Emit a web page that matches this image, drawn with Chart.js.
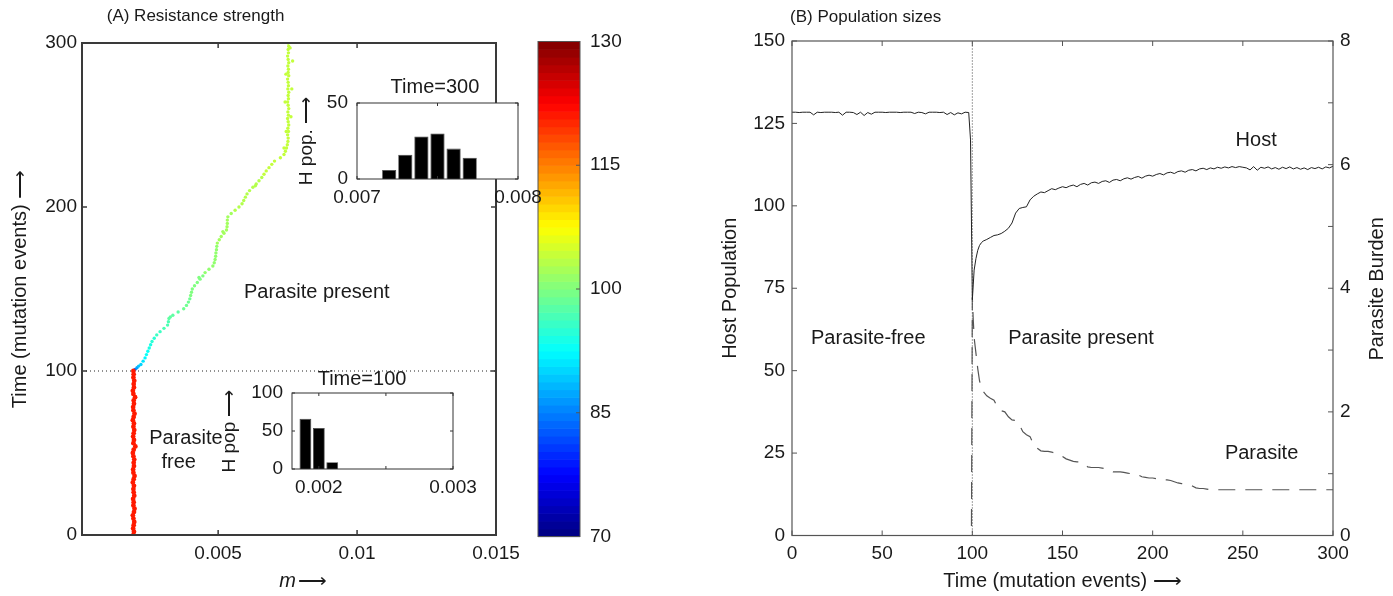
<!DOCTYPE html>
<html>
<head>
<meta charset="utf-8">
<script src="https://cdn.jsdelivr.net/npm/chart.js@4.4.1/dist/chart.umd.min.js"></script>
<style>
  html, body { margin: 0; padding: 0; background: #fff; }
  #page { position: relative; width: 1393px; height: 596px; overflow: hidden; }
  canvas { position: absolute; }
</style>
</head>
<body>
<div id="page">
  <canvas id="chart-a" width="530" height="596" style="left:0;top:0"></canvas>
  <canvas id="chart-cbar" width="110" height="596" style="left:530px;top:0"></canvas>
  <canvas id="chart-b" width="693" height="596" style="left:700px;top:0"></canvas>
  <canvas id="inset-300" width="260" height="150" style="left:290px;top:70px"></canvas>
  <canvas id="inset-100" width="270" height="150" style="left:215px;top:360px"></canvas>
</div>
<script>
// ---------------- data: panel A (resistance strength) ----------------
// parasite-free phase, time 0..100
const freeTime = [0, 2, 4, 6, 8, 10, 12, 14, 16, 18,
  20, 22, 24, 26, 28, 30, 32, 34, 36, 38,
  40, 42, 44, 46, 48, 50, 52, 54, 56, 58,
  60, 62, 64, 66, 68, 70, 72, 74, 76, 78,
  80, 82, 84, 86, 88, 90, 92, 94, 96, 98, 100];
const freeM = [0.00195, 0.00197, 0.00194, 0.00196, 0.00198, 0.00195, 0.00193, 0.00197, 0.00199, 0.00195,
  0.00196, 0.00194, 0.00198, 0.00196, 0.00195, 0.00197, 0.00193, 0.00196, 0.00199, 0.00195,
  0.00194, 0.00197, 0.00196, 0.00198, 0.00195, 0.00193, 0.00196, 0.00202, 0.00195, 0.00197,
  0.00194, 0.00196, 0.00198, 0.00195, 0.00197, 0.00193, 0.00196, 0.00199, 0.00195, 0.00194,
  0.00197, 0.00196, 0.00201, 0.00195, 0.00193, 0.00197, 0.00196, 0.00198, 0.00195, 0.00196, 0.00195];
const freeResistance = 121;

// parasite-present phase, time 100..300
const pathTime = [100, 101, 102, 103, 104, 106, 108, 110, 112, 114,
  116, 118, 120, 122, 124, 126, 128, 130, 132, 134,
  136, 138, 140, 142, 144, 146, 148, 150, 152, 154,
  156, 158, 160, 162, 164, 166, 168, 170, 172, 174,
  176, 178, 180, 182, 184, 186, 188, 190, 192, 194,
  196, 198, 200, 202, 204, 206, 208, 210, 212, 214,
  216, 218, 220, 222, 224, 226, 228, 230, 232, 234,
  236, 238, 240, 242, 244, 246, 248, 250, 252, 254,
  256, 258, 260, 262, 264, 266, 268, 270, 272, 274,
  276, 278, 280, 282, 284, 286, 288, 290, 292, 294,
  296, 298, 300,
  133, 157, 185, 213, 236, 246, 255, 264, 272, 281, 289, 297];
const pathM = [0.00196, 0.00201, 0.00208, 0.00214, 0.00222, 0.00230, 0.00237, 0.00242, 0.00247, 0.00252,
  0.00257, 0.00262, 0.00270, 0.00279, 0.00291, 0.00305, 0.00318, 0.00321, 0.00323, 0.00337,
  0.00356, 0.00376, 0.00386, 0.00393, 0.00398, 0.00401, 0.00404, 0.00407, 0.00415, 0.00425,
  0.00435, 0.00445, 0.00453, 0.00467, 0.00481, 0.00486, 0.00489, 0.00491, 0.00492, 0.00494,
  0.00495, 0.00497, 0.00504, 0.00511, 0.00521, 0.00530, 0.00532, 0.00533, 0.00533, 0.00535,
  0.00547, 0.00561, 0.00575, 0.00586, 0.00592, 0.00598, 0.00604, 0.00613, 0.00625, 0.00637,
  0.00647, 0.00657, 0.00665, 0.00673, 0.00683, 0.00693, 0.00703, 0.00724, 0.00737, 0.00742,
  0.00746, 0.00749, 0.00751, 0.00752, 0.00750, 0.00753, 0.00751, 0.00754, 0.00752, 0.00750,
  0.00753, 0.00751, 0.00754, 0.00752, 0.00750, 0.00753, 0.00752, 0.00754, 0.00751, 0.00753,
  0.00752, 0.00750, 0.00754, 0.00752, 0.00753, 0.00751, 0.00754, 0.00752, 0.00750, 0.00753,
  0.00752, 0.00754, 0.00752,
  0.00328, 0.00431, 0.00517, 0.00634, 0.00737, 0.00745, 0.00762, 0.00741, 0.00765, 0.00744, 0.00768, 0.00759];
const pathResistance = [82, 84, 87, 89, 90, 91, 92, 93, 93, 94,
  94, 95, 95, 96, 96, 97, 97, 97, 98, 98,
  98, 99, 99, 99, 99, 100, 100, 100, 100, 100,
  100, 100, 101, 101, 101, 101, 101, 101, 101, 101,
  101, 102, 102, 102, 102, 102, 102, 102, 102, 102,
  102, 103, 103, 103, 103, 103, 103, 103, 103, 103,
  103, 103, 104, 104, 104, 104, 104, 104, 104, 104,
  104, 104, 104, 104, 104, 104, 104, 104, 104, 104,
  104, 104, 104, 104, 104, 104, 104, 104, 104, 104,
  104, 104, 104, 104, 104, 104, 104, 104, 104, 104,
  104, 104, 104,
  98, 100, 102, 103, 104, 104, 104, 104, 104, 104, 104, 104];

const mTicks = [0.005, 0.01, 0.015];
const mTickLabels = ['0.005', '0.01', '0.015'];
const timeTicksA = [0, 100, 200, 300];
const timeTickLabelsA = ['0', '100', '200', '300'];
const colorTicks = [70, 85, 100, 115, 130];
const colorTickLabels = ['70', '85', '100', '115', '130'];

// inset histograms
const lateBins = [0.0072, 0.0073, 0.0074, 0.0075, 0.0076, 0.0077];
const lateCounts = [6, 16, 28, 30, 20, 14];
const lateXTicks = [0.007, 0.0075, 0.008];
const lateXLabels = ['0.007', '', '0.008'];
const lateYTicks = [0, 50];
const lateYLabels = ['0', '50'];

const earlyBins = [0.0019, 0.002, 0.0021];
const earlyCounts = [66, 54, 9];
const earlyXTicks = [0.002, 0.0025, 0.003];
const earlyXLabels = ['0.002', '', '0.003'];
const earlyYTicks = [0, 50, 100];
const earlyYLabels = ['0', '50', '100'];

// ---------------- data: panel B (population sizes) ----------------
const hostTime = [0, 2, 4, 6, 8, 10, 12, 14, 16, 18,
  20, 22, 24, 26, 28, 30, 32, 34, 36, 38,
  40, 42, 44, 46, 48, 50, 52, 54, 56, 58,
  60, 62, 64, 66, 68, 70, 72, 74, 76, 78,
  80, 82, 84, 86, 88, 90, 92, 94, 96, 98,
  99, 99.5, 100, 100.5, 101, 102, 103, 104, 105, 106,
  108, 110, 112, 114, 116, 118, 120, 122, 124, 126,
  128, 130, 132, 134, 136, 138, 140, 142, 144, 146,
  148, 150, 152, 154, 156, 158, 160, 162, 164, 166,
  168, 170, 172, 174, 176, 178, 180, 182, 184, 186,
  188, 190, 192, 194, 196, 198, 200, 202, 204, 206,
  208, 210, 212, 214, 216, 218, 220, 222, 224, 226,
  228, 230, 232, 234, 236, 238, 240, 242, 244, 246,
  248, 250, 252, 254, 256, 258, 260, 262, 264, 266,
  268, 270, 272, 274, 276, 278, 280, 282, 284, 286,
  288, 290, 292, 294, 296, 298, 300];
const hostSize = [128.4, 128.4, 128.3, 128.4, 128.4, 128.4, 127.6, 128.4, 128.3, 128.4,
  128.4, 128.4, 128.3, 128.4, 127.5, 128.4, 128.4, 128.3, 127.7, 128.4,
  127.4, 128.3, 127.8, 128.4, 128.4, 128.4, 128.3, 128.4, 128.4, 128.4,
  128.3, 128.4, 128.4, 128.4, 128.0, 128.4, 128.3, 127.9, 128.4, 128.4,
  128.4, 128.3, 128.4, 127.7, 128.3, 127.6, 128.2, 127.9, 128.4, 128.3,
  120, 96, 71.5, 76, 80.5, 84, 86.5, 88, 88.8, 89.3,
  89.8, 90.4, 91.0, 91.2, 91.6, 92.3, 93.2, 94.8, 97.8, 99.2,
  99.5, 99.7, 101.8, 102.9, 103.6, 104.2, 104.0, 104.6, 105.2, 104.9,
  105.4, 105.8, 105.5, 106.0, 106.3, 105.8, 106.5, 106.8, 106.3, 107.0,
  107.2, 106.8, 107.4, 107.6, 107.1, 107.8, 108.0, 107.6, 108.2, 108.5,
  108.1, 108.6, 108.9, 108.4, 109.0, 109.3, 109.0, 109.5, 109.8, 109.4,
  110.0, 110.2, 109.8, 110.4, 110.6, 110.2, 110.8, 111.0, 110.6, 111.2,
  111.4, 111.0, 111.5, 111.2, 111.7, 111.4, 111.8, 111.5, 111.9, 111.6,
  111.9, 111.7, 111.5, 110.9, 111.9, 110.8, 111.7, 111.4, 111.8, 111.2,
  111.6, 111.1, 111.7, 111.3, 111.8, 111.2, 111.6, 111.1, 111.5, 111.0,
  111.6, 111.3, 111.7, 111.2, 111.8, 111.5, 112.0];

const parasiteTime = [0, 99.5, 100, 100.5, 101, 102, 103, 104, 105, 106,
  108, 110, 112, 114, 116, 118, 120, 122, 124, 126,
  128, 130, 132, 134, 136, 138, 140, 142, 144, 146,
  148, 150, 152, 154, 156, 158, 160, 162, 164, 166,
  168, 170, 172, 174, 176, 178, 180, 182, 184, 186,
  188, 190, 192, 194, 196, 198, 200, 202, 204, 206,
  208, 210, 212, 214, 216, 218, 220, 222, 224, 226,
  228, 230, 232, 234, 300];
const parasiteBurden = [0, 0, 3.85, 3.5, 3.2, 2.95, 2.7, 2.5, 2.4, 2.33,
  2.26, 2.22, 2.19, 2.07, 2.02, 2.0, 1.92, 1.87, 1.86, 1.8,
  1.68, 1.63, 1.6, 1.47, 1.41, 1.37, 1.36, 1.36, 1.35, 1.33,
  1.30, 1.28, 1.24, 1.22, 1.20, 1.19, 1.19, 1.16, 1.11, 1.10,
  1.10, 1.10, 1.09, 1.08, 1.05, 1.03, 1.03, 1.03, 1.02, 1.01,
  1.00, 1.00, 0.98, 0.95, 0.94, 0.93, 0.93, 0.92, 0.92, 0.90,
  0.90, 0.89, 0.87, 0.85, 0.84, 0.83, 0.82, 0.80, 0.77, 0.76,
  0.76, 0.75, 0.74, 0.74, 0.74];

const timeTicksB = [0, 50, 100, 150, 200, 250, 300];
const timeTickLabelsB = ['0', '50', '100', '150', '200', '250', '300'];
const hostTicks = [0, 25, 50, 75, 100, 125, 150];
const hostTickLabels = ['0', '25', '50', '75', '100', '125', '150'];
const burdenTicks = [0, 2, 4, 6, 8];
const burdenTickLabels = ['0', '2', '4', '6', '8'];
const burdenMarks = [0, 1, 2, 3, 4, 5, 6, 7, 8];

// ---------------- styling helpers ----------------
const FAMILY = '"Liberation Sans", Arial, Helvetica, sans-serif';
const TEXT = '#1a1a1a';
const ARROW = '\u27F6';
const M_MIN = 0.0001, M_MAX = 0.015;
const C_MIN = 70, C_MAX = 130, C_STEPS = 64;

Chart.defaults.font.family = FAMILY;
Chart.defaults.color = TEXT;

// MATLAB "jet" colormap
function jet(v) {
  const x = (v - C_MIN) / (C_MAX - C_MIN);
  const c = k => Math.round(255 * Math.max(0, Math.min(1, 1.5 - Math.abs(4 * x - k))));
  return `rgb(${c(3)},${c(2)},${c(1)})`;
}

function fixedSize(size) {
  return scale => {
    if (scale.isHorizontal()) scale.height = size; else scale.width = size;
    scale.paddingLeft = 0; scale.paddingRight = 0;
    scale.paddingTop = 0; scale.paddingBottom = 0;
  };
}

function axis(o) {
  return {
    type: 'linear',
    display: o.display === undefined ? true : o.display,
    position: o.position,
    min: o.min,
    max: o.max,
    offset: false,
    grid: { display: false, drawTicks: false },
    border: { display: false },
    ticks: {
      padding: o.pad,
      autoSkip: false,
      maxRotation: 0,
      minRotation: 0,
      color: TEXT,
      font: { size: o.fontSize || 19 },
      callback: (v, i) => o.labels[i]
    },
    afterBuildTicks: s => { s.ticks = o.ticks.map(v => ({ value: v })); },
    afterFit: fixedSize(o.size),
    title: o.title || { display: false }
  };
}

// box around the plot area with inward tick marks
function framePlugin(cfg) {
  return {
    id: 'frame',
    beforeDraw(chart) {
      if (!cfg.fill) return;
      const { ctx, chartArea: a } = chart;
      ctx.save();
      ctx.fillStyle = cfg.fill;
      ctx.fillRect(a.left, a.top, a.width, a.height);
      ctx.restore();
    },
    afterDatasetsDraw(chart) {
      const { ctx, chartArea: a } = chart;
      ctx.save();
      ctx.strokeStyle = cfg.color;
      ctx.lineWidth = cfg.tickWidth || 1;
      ctx.beginPath();
      (cfg.marks || []).forEach(m => {
        const scale = chart.scales[m.axis];
        m.values.forEach(v => {
          const p = scale.getPixelForValue(v);
          m.sides.forEach(side => {
            if (side === 'bottom') { ctx.moveTo(p, a.bottom); ctx.lineTo(p, a.bottom - m.len); }
            if (side === 'top') { ctx.moveTo(p, a.top); ctx.lineTo(p, a.top + m.len); }
            if (side === 'left') { ctx.moveTo(a.left, p); ctx.lineTo(a.left + m.len, p); }
            if (side === 'right') { ctx.moveTo(a.right, p); ctx.lineTo(a.right - m.len, p); }
          });
        });
      });
      ctx.stroke();
      ctx.lineWidth = cfg.width;
      ctx.strokeRect(a.left, a.top, a.width, a.height);
      ctx.restore();
    }
  };
}

// free text placed in data coordinates
function notesPlugin(items) {
  return {
    id: 'notes',
    afterDraw(chart) {
      const ctx = chart.ctx;
      items.forEach(n => {
        const x = chart.scales[n.xAxis || 'x'].getPixelForValue(n.x);
        const y = chart.scales[n.yAxis || 'y'].getPixelForValue(n.y);
        ctx.save();
        ctx.font = n.font;
        ctx.fillStyle = TEXT;
        ctx.textAlign = n.align || 'center';
        ctx.textBaseline = 'middle';
        ctx.translate(x, y);
        if (n.rotate) ctx.rotate(n.rotate);
        ctx.fillText(n.text, 0, 0);
        ctx.restore();
      });
    }
  };
}

const BASE = {
  responsive: false,
  animation: false,
  events: [],
  plugins: { legend: { display: false }, tooltip: { enabled: false } }
};
const F_TITLE = `17px ${FAMILY}`;
const F_NOTE = `20px ${FAMILY}`;

// ---------------- panel A ----------------
new Chart(document.getElementById('chart-a'), {
  type: 'scatter',
  data: {
    datasets: [
      {
        data: freeTime.map((t, i) => ({ x: freeM[i], y: t })),
        pointBackgroundColor: jet(freeResistance),
        pointBorderWidth: 0,
        pointRadius: 2.4
      },
      {
        data: pathTime.map((t, i) => ({ x: pathM[i], y: t })),
        pointBackgroundColor: pathResistance.map(jet),
        pointBorderWidth: 0,
        pointRadius: 1.7
      },
      {
        data: [{ x: M_MIN, y: 100 }, { x: M_MAX, y: 100 }],
        showLine: true,
        borderColor: '#222',
        borderWidth: 1,
        borderDash: [1, 3],
        pointRadius: 0
      }
    ]
  },
  options: {
    ...BASE,
    layout: { padding: { top: 43, right: 34, left: 0, bottom: 0 } },
    scales: {
      x: axis({ min: M_MIN, max: M_MAX, ticks: mTicks, labels: mTickLabels, pad: 7, size: 61 }),
      y: axis({
        min: 0, max: 300, ticks: timeTicksA, labels: timeTickLabelsA, pad: 5, size: 82,
        title: { display: true, text: 'Time (mutation events) ' + ARROW, font: { size: 20 }, color: TEXT, padding: { top: 8, bottom: 0 } }
      })
    }
  },
  plugins: [
    framePlugin({
      color: '#3a3a3a', width: 2, tickWidth: 1.5,
      marks: [
        { axis: 'x', values: mTicks, sides: ['bottom', 'top'], len: 5 },
        { axis: 'y', values: timeTicksA, sides: ['left', 'right'], len: 5 }
      ]
    }),
    notesPlugin([
      { text: '(A) Resistance strength', x: 0.00099, y: 316, font: F_TITLE, align: 'left' },
      { text: 'Parasite present', x: 0.00855, y: 147.6, font: F_NOTE },
      { text: 'Parasite', x: 0.00384, y: 59, font: F_NOTE },
      { text: 'free', x: 0.00358, y: 44, font: F_NOTE },
      { text: 'm', x: 0.0075, y: -28.5, font: `italic 20px ${FAMILY}` },
      { text: ARROW, x: 0.0084, y: -28.5, font: F_NOTE }
    ])
  ]
});

// ---------------- colour bar ----------------
new Chart(document.getElementById('chart-cbar'), {
  type: 'scatter',
  data: { datasets: [] },
  options: {
    ...BASE,
    layout: { padding: { top: 41.5, right: 0, left: 8, bottom: 59.5 } },
    scales: {
      x: { type: 'linear', display: false, min: 0, max: 1 },
      y: axis({ position: 'right', min: C_MIN, max: C_MAX, ticks: colorTicks, labels: colorTickLabels, pad: 10, size: 60 })
    }
  },
  plugins: [
    {
      id: 'jetBar',
      beforeDatasetsDraw(chart) {
        const { ctx, chartArea: a, scales } = chart;
        const step = (C_MAX - C_MIN) / C_STEPS;
        for (let i = 0; i < C_STEPS; i++) {
          const v0 = C_MIN + i * step;
          const y0 = scales.y.getPixelForValue(v0);
          const y1 = scales.y.getPixelForValue(v0 + step);
          ctx.fillStyle = jet(v0 + step / 2);
          ctx.fillRect(a.left, y1, a.width, y0 - y1 + 0.6);
        }
      }
    },
    framePlugin({
      color: '#555', width: 1, tickWidth: 1,
      marks: [{ axis: 'y', values: colorTicks, sides: ['right'], len: 4 }]
    })
  ]
});

// ---------------- insets ----------------
function histogram(id, bins, counts, o) {
  new Chart(document.getElementById(id), {
    type: 'bar',
    data: {
      datasets: [{
        data: bins.map((m, i) => ({ x: m, y: counts[i] })),
        backgroundColor: '#000',
        borderColor: '#444',
        borderWidth: 0.8,
        barPercentage: 1,
        categoryPercentage: 0.88
      }]
    },
    options: {
      ...BASE,
      layout: { padding: { top: 33, right: o.right, left: 0, bottom: 0 } },
      scales: {
        x: axis({ min: o.xMin, max: o.xMax, ticks: o.xTicks, labels: o.xLabels, pad: 7, size: 41 }),
        y: axis({
          min: 0, max: o.yMax, ticks: o.yTicks, labels: o.yLabels, pad: 9, size: o.left,
          title: { display: true, text: o.yTitle, font: { size: 19 }, color: TEXT, padding: { top: o.titlePad, bottom: 0 } }
        })
      }
    },
    plugins: [
      framePlugin({
        fill: '#fff', color: '#333', width: 1, tickWidth: 1,
        marks: [
          { axis: 'x', values: o.xTicks, sides: ['bottom', 'top'], len: 3 },
          { axis: 'y', values: o.yTicks, sides: ['left', 'right'], len: 3 }
        ]
      }),
      notesPlugin([{ text: o.title, x: o.titleX, y: o.titleY, font: `20px ${FAMILY}` }])
    ]
  });
}

histogram('inset-300', lateBins, lateCounts, {
  xMin: 0.007, xMax: 0.008, xTicks: lateXTicks, xLabels: lateXLabels,
  yMax: 50, yTicks: lateYTicks, yLabels: lateYLabels,
  left: 67, right: 32, yTitle: 'H pop. ' + ARROW, titlePad: 5,
  title: 'Time=300', titleX: 0.007484, titleY: 60
});

histogram('inset-100', earlyBins, earlyCounts, {
  xMin: 0.0018, xMax: 0.003, xTicks: earlyXTicks, xLabels: earlyXLabels,
  yMax: 100, yTicks: earlyYTicks, yLabels: earlyYLabels,
  left: 77, right: 32, yTitle: 'H pop ' + ARROW, titlePad: 3,
  title: 'Time=100', titleX: 0.002322, titleY: 118
});

// ---------------- panel B ----------------
new Chart(document.getElementById('chart-b'), {
  type: 'line',
  data: {
    datasets: [
      {
        data: hostTime.map((t, i) => ({ x: t, y: hostSize[i] })),
        yAxisID: 'y',
        borderColor: '#222',
        borderWidth: 1,
        pointRadius: 0,
        tension: 0
      },
      {
        data: parasiteTime.map((t, i) => ({ x: t, y: parasiteBurden[i] })),
        yAxisID: 'y1',
        borderColor: '#555',
        borderWidth: 1.2,
        borderDash: [17, 10],
        pointRadius: 0,
        tension: 0
      },
      {
        data: [{ x: 100, y: 0 }, { x: 100, y: 150 }],
        yAxisID: 'y',
        borderColor: '#444',
        borderWidth: 1,
        borderDash: [1, 2],
        pointRadius: 0
      }
    ]
  },
  options: {
    ...BASE,
    layout: { padding: { top: 41, right: 0, left: 0, bottom: 0 } },
    scales: {
      x: axis({
        min: 0, max: 300, ticks: timeTicksB, labels: timeTickLabelsB, pad: 7, size: 60.5,
        title: { display: true, text: 'Time (mutation events) ' + ARROW, font: { size: 20 }, color: TEXT, padding: { top: 0, bottom: 3 } }
      }),
      y: axis({
        position: 'left', min: 0, max: 150, ticks: hostTicks, labels: hostTickLabels, pad: 7, size: 92,
        title: { display: true, text: 'Host Population', font: { size: 20 }, color: TEXT, padding: { top: 18, bottom: 0 } }
      }),
      y1: axis({ position: 'right', min: 0, max: 8, ticks: burdenTicks, labels: burdenTickLabels, pad: 7, size: 60 })
    }
  },
  plugins: [
    framePlugin({
      color: '#555', width: 1.2, tickWidth: 1,
      marks: [
        { axis: 'x', values: timeTicksB, sides: ['bottom', 'top'], len: 5 },
        { axis: 'y', values: hostTicks, sides: ['left'], len: 5 },
        { axis: 'y1', values: burdenMarks, sides: ['right'], len: 5 }
      ]
    }),
    notesPlugin([
      { text: '(B) Population sizes', x: -1.1, y: 157.3, font: F_TITLE, align: 'left' },
      { text: 'Parasite-free', x: 42.3, y: 59.9, font: F_NOTE },
      { text: 'Parasite present', x: 160.3, y: 59.9, font: F_NOTE },
      { text: 'Host', x: 257.4, y: 119.7, font: F_NOTE },
      { text: 'Parasite', x: 260.4, y: 25, font: F_NOTE },
      { text: 'Parasite Burden', x: 324.4, y: 74.8, font: F_NOTE, rotate: -Math.PI / 2 }
    ])
  ]
});
</script>
</body>
</html>
